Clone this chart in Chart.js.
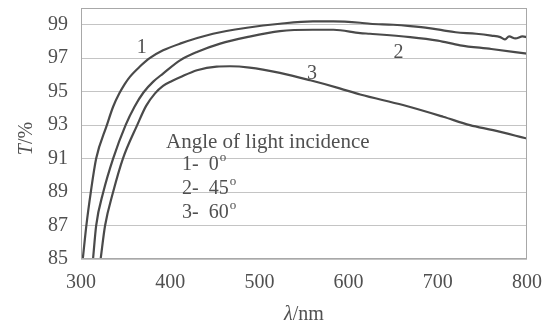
<!DOCTYPE html>
<html>
<head>
<meta charset="utf-8">
<script src="https://cdn.jsdelivr.net/npm/chart.js@4"></script>
<style>
    html, body { margin: 0; padding: 0; background: #fff; }
    #wrap { width: 552px; height: 326px; }
</style>
</head>
<body>
<div id="wrap"><canvas id="chart"></canvas></div>
<script>
// values
const wave1 = [302, 306, 311, 317, 329, 336, 343, 349, 355, 366, 377, 392, 411, 448, 486, 523, 560, 583, 613, 624, 650, 669, 690, 706, 720, 743, 760, 770, 775, 780, 787, 795, 800];
const trans1 = [85, 87, 89, 91, 93, 94.1, 94.9, 95.45, 95.9, 96.5, 97, 97.47, 97.87, 98.46, 98.82, 99.06, 99.2, 99.2, 99.12, 99.06, 99.0, 98.92, 98.8, 98.66, 98.55, 98.46, 98.35, 98.26, 98.12, 98.3, 98.18, 98.3, 98.26];

const wave2 = [313.5, 317, 325, 336, 350, 360, 370, 381, 392, 411, 430, 456, 486, 523, 560, 583, 613, 624, 669, 700, 725, 760, 800];
const trans2 = [85, 87, 89, 91, 93, 94.1, 94.95, 95.6, 96.08, 96.87, 97.37, 97.87, 98.26, 98.62, 98.7, 98.7, 98.5, 98.46, 98.26, 98.05, 97.77, 97.55, 97.27];

const wave3 = [322, 327, 336, 347, 363, 373, 383, 392, 402, 411, 430, 452, 467, 489, 523, 557, 590, 613, 661, 706, 736, 762, 800];
const trans3 = [85, 87, 89, 91, 93, 94.15, 94.9, 95.35, 95.64, 95.86, 96.28, 96.5, 96.52, 96.44, 96.12, 95.68, 95.2, 94.83, 94.2, 93.5, 93.0, 92.7, 92.2];

const yTicks = [85, 87, 89, 91, 93, 95, 97, 99];
const xTicks = [300, 400, 500, 600, 700, 800];

// curve numbers and the note inside the plot: [text, wavelength, T]
const curveLabels = [['1', 368, 97.6], ['2', 656, 97.3], ['3', 559, 96.1]];
const noteTitle = 'Angle of light incidence';
const noteLines = [['1-  0', 'o'], ['2-  45', 'o'], ['3-  60', 'o']];

const ink = '#4a4a4a';
const textInk = '#505050';
const serif = '"Liberation Serif", "DejaVu Serif", serif';

function pairs(xs, ys) {
    return xs.map(function(x, i) { return { x: x, y: ys[i] }; });
}

function curve(xs, ys) {
    return {
        data: pairs(xs, ys),
        borderColor: ink,
        borderWidth: 2.2,
        pointRadius: 0,
        cubicInterpolationMode: 'monotone',
        fill: false
    };
}

const frameAndText = {
    id: 'frameAndText',
    afterDatasetsDraw: function(chart) {
        const ctx = chart.ctx;
        const a = chart.chartArea;
        const xs = chart.scales.x;
        const ys = chart.scales.y;
        ctx.save();

        ctx.strokeStyle = '#a8a8a8';
        ctx.lineWidth = 1;
        ctx.strokeRect(a.left + 0.5, a.top + 0.5, a.right - a.left - 1, a.bottom - a.top - 1);

        ctx.fillStyle = textInk;
        ctx.textBaseline = 'middle';
        ctx.textAlign = 'center';
        ctx.font = '20px ' + serif;
        curveLabels.forEach(function(l) {
            ctx.fillText(l[0], xs.getPixelForValue(l[1]), ys.getPixelForValue(l[2]));
        });

        ctx.textAlign = 'left';
        ctx.font = '21px ' + serif;
        ctx.fillText(noteTitle, 166, 142);
        noteLines.forEach(function(l, i) {
            const y = 165 + i * 24;
            ctx.font = '20px ' + serif;
            ctx.fillText(l[0], 182, y);
            const w = ctx.measureText(l[0]).width;
            ctx.font = '13px ' + serif;
            ctx.fillText(l[1], 182 + w + 1, y - 7);
        });

        // axis titles
        ctx.font = 'italic 20px ' + serif;
        const lw = ctx.measureText('λ').width;
        ctx.font = '20px ' + serif;
        const nw = ctx.measureText('/nm').width;
        let x0 = (a.left + a.right) / 2 - (lw + nw) / 2;
        ctx.font = 'italic 20px ' + serif;
        ctx.fillText('λ', x0, 315);
        ctx.font = '20px ' + serif;
        ctx.fillText('/nm', x0 + lw, 315);

        ctx.translate(27, (a.top + a.bottom) / 2 + 5);
        ctx.rotate(-Math.PI / 2);
        ctx.font = 'italic 20px ' + serif;
        const tw = ctx.measureText('T').width;
        ctx.font = '20px ' + serif;
        const pw = ctx.measureText('/%').width;
        x0 = -(tw + pw) / 2;
        ctx.font = 'italic 20px ' + serif;
        ctx.fillText('T', x0, 0);
        ctx.font = '20px ' + serif;
        ctx.fillText('/%', x0 + tw, 0);
        ctx.restore();
    }
};

new Chart(document.getElementById('chart'), {
    type: 'line',
    data: {
        datasets: [curve(wave1, trans1), curve(wave2, trans2), curve(wave3, trans3)]
    },
    options: {
        responsive: true,
        maintainAspectRatio: false,
        animation: false,
        layout: { padding: { top: 8, right: 25, bottom: 0, left: 0 } },
        plugins: {
            legend: { display: false },
            tooltip: { enabled: false }
        },
        scales: {
            x: {
                type: 'linear',
                min: 300,
                max: 800,
                afterBuildTicks: function(axis) {
                    axis.ticks = xTicks.map(function(v) { return { value: v }; });
                },
                afterFit: function(axis) {
                    axis.height = 67;
                    axis.paddingLeft = 0;
                    axis.paddingRight = 0;
                },
                grid: { display: false, drawTicks: false },
                border: { display: false },
                ticks: {
                    padding: 12,
                    color: textInk,
                    font: { family: serif, size: 20 }
                }
            },
            y: {
                type: 'linear',
                min: 85,
                max: 100,
                afterBuildTicks: function(axis) {
                    axis.ticks = yTicks.map(function(v) { return { value: v }; });
                },
                afterFit: function(axis) {
                    axis.width = 81;
                    axis.paddingTop = 0;
                    axis.paddingBottom = 0;
                },
                grid: { color: '#c4c4c4', lineWidth: 1, drawTicks: false },
                border: { display: false },
                ticks: {
                    padding: 13,
                    color: textInk,
                    font: { family: serif, size: 20 }
                }
            }
        }
    },
    plugins: [frameAndText]
});
</script>
</body>
</html>
